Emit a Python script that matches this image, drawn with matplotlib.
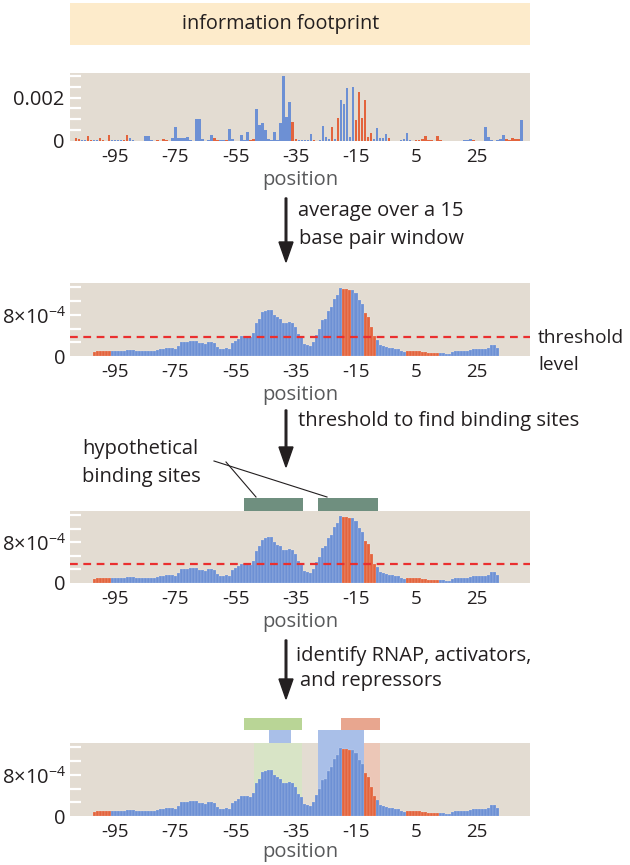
import numpy as np
import matplotlib
matplotlib.use("Agg")
import matplotlib.pyplot as plt
from matplotlib.patches import Rectangle, FancyArrow
from matplotlib.lines import Line2D

plt.rcParams['font.family'] = ['Open Sans', 'DejaVu Sans']
plt.rcParams['mathtext.fontset'] = 'custom'
plt.rcParams['mathtext.rm'] = 'Open Sans'
plt.rcParams['mathtext.it'] = 'Open Sans:italic'

# information footprint, positions -108..40 (values in units of 1e-4 bits)
# b = blue bar, r = red bar; one row of ten positions per line
foot_pos = list(range(-108, 41))
foot_val = [1.5, 1.0, 0.3, 0.3, 2.3, 0.5, 0.3, 0.4, 1.5, 0.4,      # -108..-99
            0.2, 2.6, 0.4, 0.6, 0.3, 0.3, 0.3, 2.6, 1.2, 0.4,      # -98..-89
            0.2, 0.1, 0.1, 2.3, 2.3, 0.5, 0.2, 0.3, 0.2, 0.9,      # -88..-79
            0.3, 0.2, 1.2, 6.5, 1.5, 1.5, 1.5, 1.7, 0.3, 0.2,      # -78..-69
            10.3, 10.3, 1.0, 0.2, 0.3, 2.6, 1.2, 0.4, 0.3, 0.6,    # -68..-59
            0.4, 5.4, 1.0, 0.2, 0.2, 2.6, 0.4, 4.2, 0.3, 0.9,      # -58..-49
            14.6, 7.2, 8.5, 5.0, 1.0, 0.3, 4.2, 0.3, 8.5, 30.0,    # -48..-39
            11.0, 18.0, 8.8, 1.0, 0.6, 0.4, 0.3, 0.3, 3.4, 0.3,    # -38..-29
            0.2, 0.3, 7.0, 2.0, 1.0, 6.6, 1.0, 10.8, 19.0, 17.0,   # -28..-19
            24.4, 2.0, 25.0, 9.6, 22.7, 10.8, 19.0, 2.0, 3.5, 1.0, # -18..-9
            6.0, 1.5, 1.5, 3.4, 1.5, 0.2, 0.2, 0.2, 0.3, 1.0,      # -8..1
            3.5, 0.3, 0.1, 0.5, 0.5, 1.0, 2.3, 0.3, 0.3, 0.2,      # 2..11
            2.3, 0.3, 0.2, 0.2, 0.2, 0.2, 0.1, 0.1, 0.2, 0.6,      # 12..21
            0.3, 1.0, 0.3, 0.2, 0.1, 0.1, 6.5, 2.0, 0.6, 0.1,      # 22..31
            0.3, 1.0, 2.8, 0.8, 0.3, 1.3, 1.0, 0.8, 9.6]           # 32..40
foot_kind = ("rrbbrrbbrr" "rrbbbbrrbb" "brrbbbrrrr" "rbbbbbbbbb" "bbbbbbrrbb"
             "rbbbrbbbrr" "bbbbbbbbbb" "bbrrbbbbbr" "bbbbbrbrbb" "bbbrrrrrrb"
             "bbbbrbbbbb" "bbbrrrrrrr" "rrrbrbrbbb" "bbrrbbbbbr" "bbbrrrrrb")

# 15 bp window average, positions -102..32 (units of 1e-4)
avg_pos = list(range(-102, 33))
avg_val = [0.85, 0.9, 0.9, 0.95, 0.95, 1.0, 1.0, 1.0, 1.0, 0.95, 1.05, 1.15, 1.2, 1.1, 1.05,
           1.0, 1.0, 1.0, 1.0, 0.9, 0.95, 1.1, 1.3, 1.4, 1.5, 1.6, 1.5, 1.3, 2.0, 2.8, 2.8,
           2.8, 2.9, 3.0, 3.0, 2.5, 2.5, 2.4, 2.7, 2.7, 2.6, 1.8, 1.4, 1.3, 1.5, 1.3, 2.5,
           2.9, 3.4, 3.8, 3.8, 3.8, 3.6, 4.4, 6.4, 7.2, 8.5, 8.8, 9.0, 9.0, 8.0, 7.5, 7.2,
           6.5, 6.5, 6.7, 6.5, 5.7, 4.3, 3.6, 2.3, 2.1, 2.0, 2.7, 4.1, 5.2, 7.0, 7.2, 8.8,
           9.5, 11.1, 11.9, 13.2, 13.0, 13.0, 12.9, 12.9, 12.2, 10.9, 10.1, 8.3, 7.6, 5.7, 3.8,
           3.1, 2.1, 2.0, 1.7, 1.6, 1.5, 1.3, 1.3, 1.0, 0.85, 1.0, 1.0, 1.0, 1.0, 1.0, 0.7,
           0.7, 0.65, 0.65, 0.6, 0.5, 0.5, 0.5, 0.45, 0.3, 0.85, 1.0, 1.0, 1.0, 1.0, 1.0, 1.2,
           1.3, 1.3, 1.3, 1.3, 1.3, 1.5, 2.1, 2.1, 1.5]
avg_kind = "r" * 6 + "b" * 77 + "r" * 3 + "b" * 4 + "r" * 4 + "b" * 10 + "r" * 11 + "b" * 20

assert len(foot_val) == len(foot_pos) == len(foot_kind)
assert len(avg_val) == len(avg_pos) == len(avg_kind)

threshold = 3.7e-4
site_spans = [(-52.2, -32.6), (-27.6, -7.6)]
activator_span = (-52.3, -32.9)
activator_shade = (-49.0, -32.9)
rnap_small = (-44.0, -36.6)
rnap_large = (-27.6, -12.5)
repressor_span = (-19.9, -7.1)
xticks = [-95, -75, -55, -35, -15, 5, 25]

BLUE = '#6d90d4'
RED = '#e3643d'
BG = '#e3dcd2'
colmap = {'b': BLUE, 'r': RED}

W, H = 630, 865
fig = plt.figure(figsize=(W / 100, H / 100), dpi=100)


def fx(x):
    return x / W


def fy(y):
    return 1 - y / H


def make_axes(top, bottom):
    ax = fig.add_axes([fx(70), fy(bottom), fx(530) - fx(70), (bottom - top) / H])
    ax.set_facecolor(BG)
    for s in ax.spines.values():
        s.set_visible(False)
    ax.set_xlim(-110, 42.8)
    ax.set_xticks(xticks)
    ax.set_xticklabels([str(t) for t in xticks], fontsize=13.5, color='#231f20')
    ax.tick_params(axis='x', length=0, pad=5)
    ax.tick_params(axis='y', which='major', length=0, pad=4, labelsize=14.5, labelcolor='#231f20')
    ax.tick_params(axis='y', which='minor', direction='in', length=8, width=1.6, color='white')
    ax.yaxis.remove_overlapping_locs = False
    ax.set_xlabel('position', fontsize=14.5, color='#58595b', labelpad=3)
    return ax


# panel 1: raw footprint
ax1 = make_axes(73, 141)
ax1.bar(foot_pos, np.array(foot_val) * 1e-4, width=0.85, color=[colmap[k] for k in foot_kind],
        linewidth=0)
ax1.set_ylim(0, 3.13e-3)
ax1.set_yticks([0, 0.002])
ax1.set_yticklabels(['0', '0.002'])
ax1.set_yticks([0.0005, 0.001, 0.0015, 0.002, 0.0025, 0.003], minor=True)

avg_axes = []
for top, bottom in [(283, 356), (511, 583), (743, 816)]:
    ax = make_axes(top, bottom)
    ax.bar(avg_pos, np.array(avg_val) * 1e-4, width=1.0, color=[colmap[k] for k in avg_kind],
           edgecolor=(1, 1, 1, 0.3), linewidth=0.35, zorder=2)
    ax.set_ylim(0, 1.42e-3)
    ax.set_yticks([0, 8e-4])
    ax.set_yticklabels(['0', r'$8{\times}10^{-4}$'], fontsize=14.5)
    ax.set_yticks([k * 8e-4 / 3 for k in range(1, 6)], minor=True)
    ax.tick_params(axis='y', which='major', pad=3)
    avg_axes.append(ax)

ax2, ax3, ax4 = avg_axes
for ax in (ax2, ax3):
    ax.axhline(threshold, color='#ea2f2f', lw=1.6, ls=(0, (3.5, 2.5)), zorder=3)

# panel 3: hypothetical binding sites
for a, b in site_spans:
    ax3.add_patch(Rectangle((a, 1.0), b - a, 0.18, transform=ax3.get_xaxis_transform(),
                            facecolor='#6f8f7f', edgecolor='none', clip_on=False))

# panel 4: RNAP, activators and repressors
tr = ax4.get_xaxis_transform()
ax4.add_patch(Rectangle((activator_shade[0], 0), activator_shade[1] - activator_shade[0], 1,
                        transform=tr, facecolor='#d8e4c6', edgecolor='none', zorder=1))
ax4.add_patch(Rectangle((rnap_large[1], 0), repressor_span[1] - rnap_large[1], 1,
                        transform=tr, facecolor='#ecc7b7', edgecolor='none', zorder=1))
ax4.add_patch(Rectangle((rnap_large[0], 0), rnap_large[1] - rnap_large[0], 1.18,
                        transform=tr, facecolor='#a9bfe8', edgecolor='none', zorder=1, clip_on=False))
ax4.add_patch(Rectangle((rnap_small[0], 1.0), rnap_small[1] - rnap_small[0], 0.18,
                        transform=tr, facecolor='#a9bfe8', edgecolor='none', clip_on=False))
ax4.add_patch(Rectangle((activator_span[0], 1.18), activator_span[1] - activator_span[0], 0.165,
                        transform=tr, facecolor='#b9d596', edgecolor='none', clip_on=False))
ax4.add_patch(Rectangle((repressor_span[0], 1.18), repressor_span[1] - repressor_span[0], 0.165,
                        transform=tr, facecolor='#e8a68f', edgecolor='none', clip_on=False))
ax4.xaxis.labelpad = 1

# title box
fig.patches.append(Rectangle((fx(70), fy(45)), fx(530) - fx(70), (45 - 3) / H,
                             transform=fig.transFigure, facecolor='#fdebcb', edgecolor='none'))
fig.text(fx(281), fy(24), 'information footprint', fontsize=14.3, ha='center', va='center',
         color='#231f20')

# arrows and step descriptions
for y0, y1 in [(198, 262), (410, 467), (640, 699)]:
    fig.patches.append(FancyArrow(fx(286), fy(y0), 0, -(y1 - y0) / H, width=2.2 / H,
                                  head_width=14 / W, head_length=20 / H, length_includes_head=True,
                                  transform=fig.transFigure, color='#231f20'))

txt = dict(fontsize=14.5, ha='left', va='center', color='#231f20')
fig.text(fx(298), fy(211), 'average over a 15', **txt)
fig.text(fx(299), fy(239), 'base pair window', **txt)
fig.text(fx(298), fy(421), 'threshold to find binding sites', **txt)
fig.text(fx(296), fy(656), 'identify RNAP, activators,', **txt)
fig.text(fx(300), fy(681), 'and repressors', **txt)
fig.text(fx(538), fy(338), 'threshold', fontsize=13.8, ha='left', va='center', color='#231f20')
fig.text(fx(538), fy(365), 'level', fontsize=13.8, ha='left', va='center', color='#231f20')
fig.text(fx(82), fy(449), 'hypothetical', **txt)
fig.text(fx(82), fy(477), 'binding sites', **txt)

fig.lines.append(Line2D([fx(226), fx(256)], [fy(462), fy(497)], transform=fig.transFigure,
                        color='#231f20', lw=0.8))
fig.lines.append(Line2D([fx(214), fx(327)], [fy(461), fy(497)], transform=fig.transFigure,
                        color='#231f20', lw=0.8))

fig.savefig('out.png', dpi=100)
